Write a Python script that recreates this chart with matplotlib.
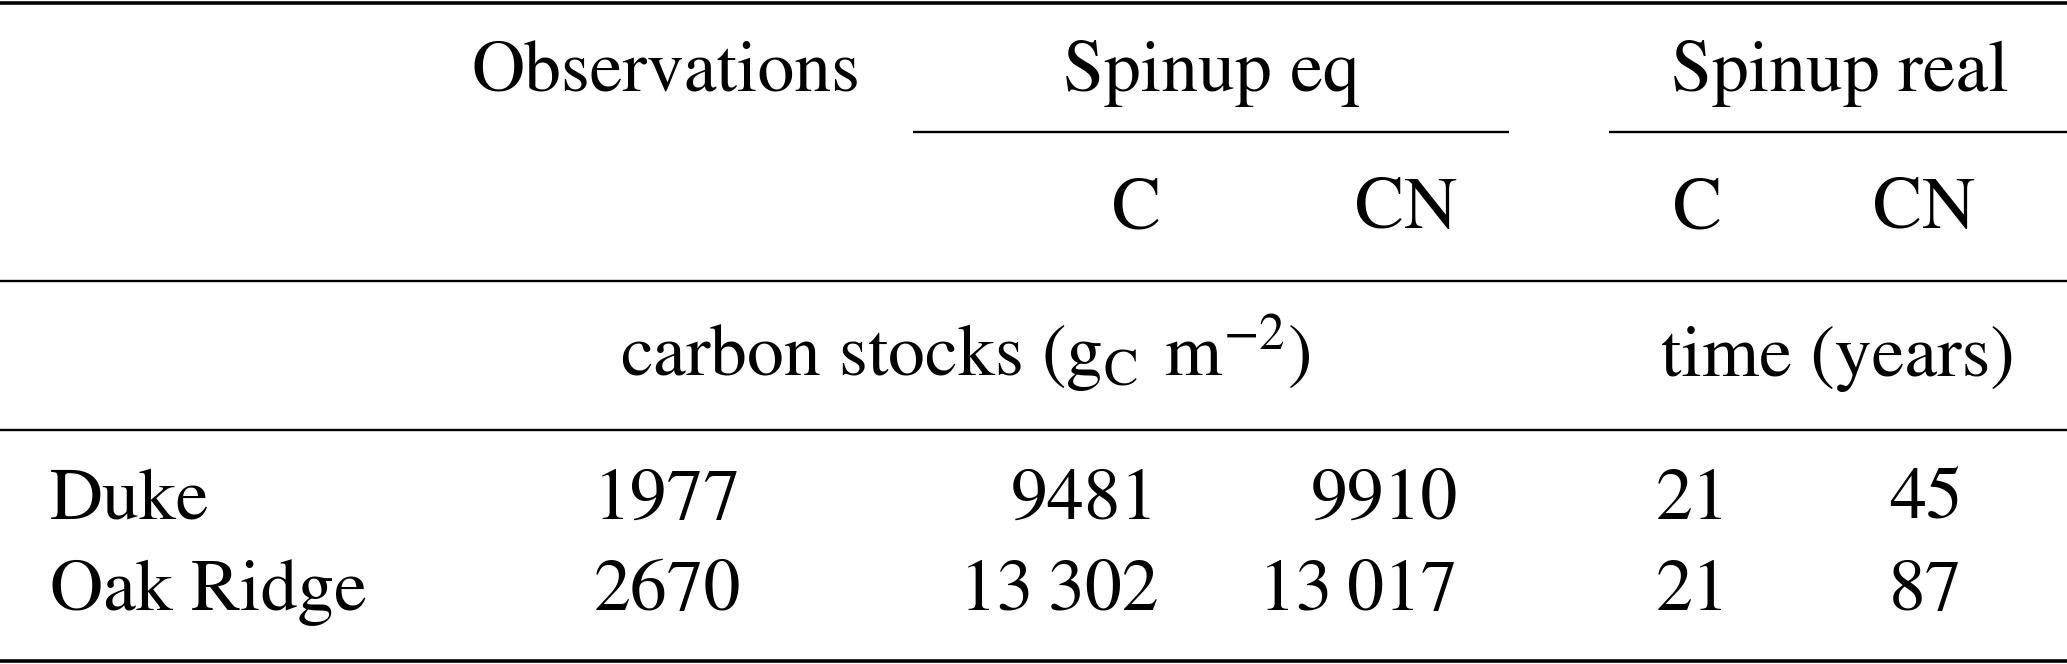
import matplotlib.pyplot as plt

# table contents
sites = ["Duke", "Oak Ridge"]
observations = [1977, 2670]
spinup_eq_c = [9481, 13302]
spinup_eq_cn = [9910, 13017]
spinup_real_c = [21, 21]
spinup_real_cn = [45, 87]

group_labels = ["Observations", "Spinup eq", "Spinup real"]
sub_labels = ["C", "CN", "C", "CN"]
unit_labels = [r"carbon stocks ($\mathrm{g_C\;\,m^{-2}}$)", "time (years)"]


def fmt(v):
    # group digits like siunitx (only for 5+ digits)
    s = str(v)
    if len(s) >= 5:
        s = s[:-3] + "\u2009" + s[-3:]
    return s


plt.rcParams["font.family"] = ["STIXGeneral", "Liberation Serif", "DejaVu Serif"]
plt.rcParams["mathtext.fontset"] = "stix"

W, H = 1567, 503
fig = plt.figure(figsize=(20.67, 6.64), dpi=100)
ax = fig.add_axes([0, 0, 1, 1])
ax.set_xlim(0, W)
ax.set_ylim(H, 0)
ax.axis("off")

fs = 53

# rules
ax.plot([0, W], [2, 2], color="black", lw=2.6, solid_capstyle="butt")
ax.plot([692, 1144], [100, 100], color="black", lw=1.7, solid_capstyle="butt")
ax.plot([1220, W], [100, 100], color="black", lw=1.7, solid_capstyle="butt")
ax.plot([0, W], [213, 213], color="black", lw=1.7, solid_capstyle="butt")
ax.plot([0, W], [326, 326], color="black", lw=1.7, solid_capstyle="butt")
ax.plot([0, W], [501, 501], color="black", lw=2.6, solid_capstyle="butt")

# header row 1
for lab, x in zip(group_labels, [505, 918, 1395]):
    ax.text(x, 69, lab, ha="center", va="baseline", fontsize=fs)

# header row 2
sub_x = [880, 1105, 1287, 1459]
sub_ha = ["right", "right", "center", "center"]
for lab, x, ha in zip(sub_labels, sub_x, sub_ha):
    ax.text(x, 173, lab, ha=ha, va="baseline", fontsize=fs)

# units row
for lab, x in zip(unit_labels, [732, 1393]):
    ax.text(x, 285, lab, ha="center", va="baseline", fontsize=fs)

# data rows
for i, site in enumerate(sites):
    y = [393, 462][i]
    ax.text(38, y, site, ha="left", va="baseline", fontsize=fs)
    ax.text(506, y, fmt(observations[i]), ha="center", va="baseline", fontsize=fs)
    ax.text(878, y, fmt(spinup_eq_c[i]), ha="right", va="baseline", fontsize=fs)
    ax.text(1105, y, fmt(spinup_eq_cn[i]), ha="right", va="baseline", fontsize=fs)
    ax.text(1283, y, fmt(spinup_real_c[i]), ha="center", va="baseline", fontsize=fs)
    ax.text(1460, y, fmt(spinup_real_cn[i]), ha="center", va="baseline", fontsize=fs)

fig.savefig("out.png", dpi=100)
